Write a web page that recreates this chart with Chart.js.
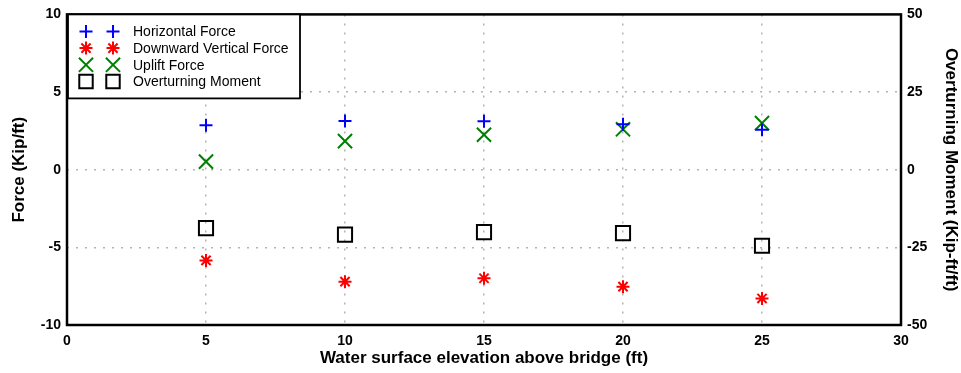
<!DOCTYPE html>
<html>
<head>
<meta charset="utf-8">
<script src="https://cdn.jsdelivr.net/npm/chart.js@4/dist/chart.umd.min.js"></script>
<style>
  html, body { margin: 0; padding: 0; background: #fff; }
  canvas { display: block; }
</style>
</head>
<body>
<canvas id="c" width="961" height="373"></canvas>
<script>
// Water surface elevation above bridge (ft)
const elevations = [5, 10, 15, 20, 25];
// Forces (Kip/ft)
const horizontalForce = [2.86, 3.14, 3.12, 2.92, 2.58];
const downwardVerticalForce = [-5.84, -7.21, -6.99, -7.53, -8.29];
const upliftForce = [0.52, 1.84, 2.25, 2.60, 3.00];
// Overturning moment (Kip-ft/ft)
const overturningMoment = [-18.8, -20.9, -20.1, -20.4, -24.5];

const seriesNames = ['Horizontal Force', 'Downward Vertical Force', 'Uplift Force', 'Overturning Moment'];

const toPoints = (ys) => elevations.map((x, i) => ({ x: x, y: ys[i] }));
const FONT = 'Liberation Sans, Arial, sans-serif';

const styles = [
  { pointStyle: 'cross', color: '#0000ff', radius: 6.5, width: 2 },
  { pointStyle: 'star', color: '#ff0000', radius: 6.5, width: 2 },
  { pointStyle: 'crossRot', color: '#008000', radius: 10, width: 2 },
  { pointStyle: 'rect', color: '#000000', radius: 10, width: 2 }
];

const datasets = [horizontalForce, downwardVerticalForce, upliftForce, overturningMoment].map((vals, i) => ({
  label: seriesNames[i],
  data: toPoints(vals),
  yAxisID: i === 3 ? 'y2' : 'y',
  showLine: false,
  pointStyle: styles[i].pointStyle,
  pointRadius: styles[i].radius,
  pointHoverRadius: styles[i].radius,
  pointBorderWidth: styles[i].width,
  pointBorderColor: styles[i].color,
  pointBackgroundColor: 'rgba(0,0,0,0)',
  borderColor: styles[i].color,
  backgroundColor: 'rgba(0,0,0,0)'
}));

// Heavy frame and a boxed legend with two markers per entry
const framePlugin = {
  id: 'frame',
  beforeDatasetsDraw(chart) {
    const { ctx, chartArea: a } = chart;
    ctx.save();
    ctx.strokeStyle = '#000';
    ctx.lineWidth = 2.5;
    ctx.strokeRect(a.left, a.top, a.right - a.left, a.bottom - a.top);
    ctx.restore();
  },
  afterDraw(chart) {
    const { ctx, chartArea: a } = chart;
    const bx = a.left + 1, by = a.top, bw = 232, bh = 84;
    ctx.save();
    ctx.fillStyle = '#fff';
    ctx.fillRect(bx, by, bw, bh);
    ctx.strokeStyle = '#000';
    ctx.lineWidth = 1.8;
    ctx.strokeRect(bx, by, bw, bh);
    ctx.font = '14px ' + FONT;
    ctx.textBaseline = 'middle';
    seriesNames.forEach((name, i) => {
      const y = by + 17 + i * 16.7;
      const s = styles[i];
      const r = s.pointStyle === 'rect' ? 9.5 : (s.pointStyle === 'crossRot' ? 10 : 6.5);
      ctx.strokeStyle = s.color;
      ctx.fillStyle = 'rgba(0,0,0,0)';
      ctx.lineWidth = s.width;
      [bx + 18, bx + 45].forEach(px => {
        Chart.helpers.drawPoint(ctx, { pointStyle: s.pointStyle, radius: r, borderWidth: s.width, rotation: 0 }, px, y);
      });
      ctx.fillStyle = '#000';
      ctx.fillText(name, bx + 65, y + 1);
    });
    ctx.restore();
  }
};

const gridColor = (ctx, min, max) => {
  const v = ctx.tick ? ctx.tick.value : null;
  return (v === min || v === max) ? 'rgba(0,0,0,0)' : '#b4b4b4';
};

const tickFont = { family: FONT, size: 14, weight: 'bold' };
const titleFont = { family: FONT, size: 17, weight: 'bold' };

new Chart(document.getElementById('c'), {
  type: 'scatter',
  data: { datasets: datasets },
  plugins: [framePlugin],
  options: {
    responsive: false,
    animation: false,
    layout: { padding: { top: 13, left: 0, right: 0, bottom: 0 } },
    plugins: {
      legend: { display: false },
      tooltip: { enabled: false }
    },
    scales: {
      x: {
        type: 'linear',
        min: 0, max: 30,
        ticks: { stepSize: 5, color: '#000', font: tickFont, padding: 8 },
        grid: { drawTicks: false, color: (c) => gridColor(c, 0, 30), lineWidth: 1.5 },
        border: { display: false, dash: [2, 7] },
        title: { display: true, text: 'Water surface elevation above bridge (ft)', color: '#000', font: titleFont, padding: { top: 0, bottom: 4 } },
        afterFit(s) { s.height = 48; }
      },
      y: {
        position: 'left',
        min: -10, max: 10,
        ticks: { stepSize: 5, color: '#000', font: tickFont, padding: 6 },
        grid: { drawTicks: false, color: (c) => gridColor(c, -10, 10), lineWidth: 1.5 },
        border: { display: false, dash: [2, 7] },
        title: { display: true, text: 'Force (Kip/ft)', color: '#000', font: titleFont, padding: { top: 9, bottom: 0 } },
        afterFit(s) { s.width = 67; }
      },
      y2: {
        position: 'right',
        min: -50, max: 50,
        ticks: { stepSize: 25, color: '#000', font: tickFont, padding: 6 },
        grid: { display: false, drawTicks: false },
        border: { display: false },
        title: { display: true, text: 'Overturning Moment (Kip-ft/ft)', color: '#000', font: titleFont, padding: { top: 0, bottom: 0 } },
        afterFit(s) { s.width = 60; }
      }
    }
  }
});
</script>
</body>
</html>
